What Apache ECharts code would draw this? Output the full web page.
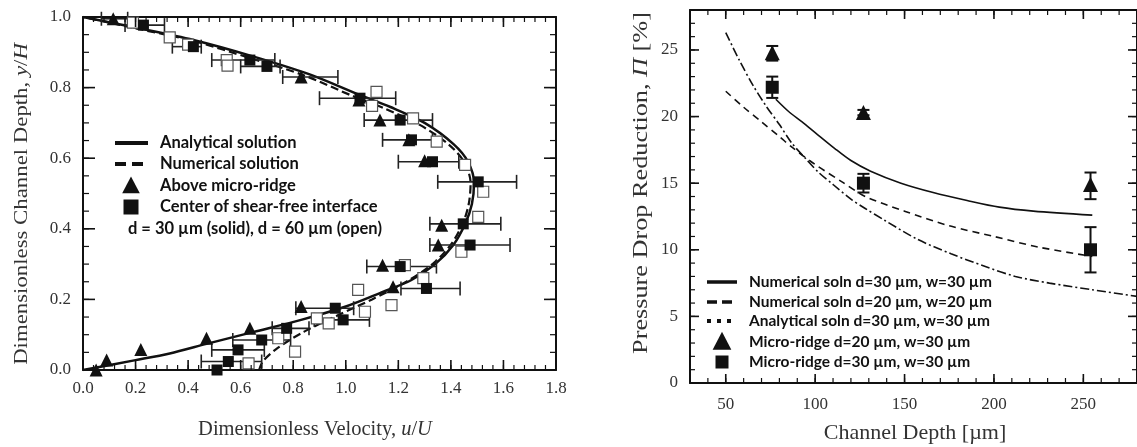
<!DOCTYPE html>
<html><head><meta charset="utf-8">
<script src="https://cdn.jsdelivr.net/npm/echarts@6/dist/echarts.min.js"></script>
<style>html,body{margin:0;padding:0;background:#fff}#c{width:1137px;height:447px}</style>
</head><body><div id="c"></div>
<script>
// ---------- tick labels / tick positions ----------
const leftXTicks = [0, 0.2, 0.4, 0.6, 0.8, 1.0, 1.2, 1.4, 1.6, 1.8];
const leftYTicks = [0, 0.2, 0.4, 0.6, 0.8, 1.0];
const rightXTicks = [50, 100, 150, 200, 250];
const rightYTicks = [0, 5, 10, 15, 20, 25];
function steps(a, b, s) { const r = []; for (let v = a; v <= b + 1e-9; v += s) r.push(Math.round(v * 1000) / 1000); return r; }
const leftXMinor = steps(0, 1.8, 0.04);
const leftYMinor = steps(0, 1.0, 0.05);
const rightXMinor = steps(30, 280, 10);
const rightYMinor = steps(0, 28, 1);
const leftXRange = [0, 1.8], leftYRange = [0, 1];
const rightXRange = [30, 280], rightYRange = [0, 28];

// ---------- left panel: velocity profile ----------
const analyticalSolution = [[0,0],[0.2,0.028],[0.33,0.047],[0.47,0.074],[0.65,0.108],[0.83,0.142],[1.0,0.18],[1.13,0.218],[1.25,0.255],[1.34,0.30],[1.41,0.355],[1.455,0.415],[1.48,0.47],[1.488,0.53],[1.465,0.59],[1.41,0.64],[1.3,0.70],[1.17,0.745],[1.05,0.78],[0.86,0.838],[0.64,0.89],[0.42,0.935],[0.2,0.97],[0,1.0]];
const numericalSolution = [[0.67,0],[0.685,0.025],[0.74,0.062],[0.84,0.108],[0.97,0.155],[1.1,0.2],[1.23,0.25],[1.33,0.30],[1.40,0.355],[1.445,0.415],[1.468,0.47],[1.475,0.53],[1.45,0.59],[1.39,0.64],[1.28,0.695],[1.15,0.74],[1.03,0.775],[0.84,0.835],[0.63,0.885],[0.42,0.932],[0.2,0.968],[0,1.0]];
const aboveRidge30 = [[0.05,0.0],[0.09,0.028],[0.22,0.058],[0.47,0.09],[0.635,0.118],[0.83,0.18],[1.14,0.297],[1.18,0.236],[1.352,0.354],[1.365,0.41],[1.30,0.593],[1.24,0.652],[1.13,0.708],[1.05,0.765],[0.83,0.83],[0.115,0.995]];
const centerSF30 = [[0.51,0.0],[0.553,0.024],[0.59,0.057],[0.68,0.085],[0.775,0.118],[0.96,0.175],[0.99,0.142],[1.207,0.293],[1.307,0.231],[1.473,0.354],[1.447,0.414],[1.504,0.533],[1.33,0.59],[1.25,0.652],[1.207,0.708],[1.054,0.77],[0.70,0.86],[0.635,0.878],[0.42,0.916],[0.23,0.977]];
const open60 = [[0.19,0.984],[0.33,0.942],[0.40,0.922],[0.547,0.878],[0.55,0.862],[1.117,0.788],[1.10,0.748],[1.256,0.713],[1.346,0.647],[1.454,0.581],[1.523,0.505],[1.504,0.434],[1.44,0.335],[1.225,0.297],[1.295,0.26],[1.047,0.227],[1.174,0.184],[1.073,0.165],[0.935,0.132],[0.89,0.146],[0.743,0.09],[0.807,0.052],[0.63,0.019]];
// horizontal error bars: [y, uLow, uHigh]
const leftErrors = [[0.995,0.07,0.17],[0.977,0.16,0.31],[0.916,0.34,0.45],[0.878,0.49,0.73],[0.86,0.60,0.75],[0.83,0.76,0.97],[0.77,0.90,1.19],[0.708,1.07,1.33],[0.652,1.14,1.33],[0.59,1.20,1.43],[0.533,1.35,1.65],[0.414,1.32,1.59],[0.354,1.32,1.625],[0.293,1.08,1.345],[0.231,1.21,1.435],[0.175,0.81,1.03],[0.142,0.88,1.09],[0.118,0.72,0.86],[0.085,0.57,0.79],[0.057,0.49,0.69],[0.024,0.45,0.68]];

// ---------- right panel: pressure drop reduction ----------
const numSoln30 = [[78,21.3],[85,20.4],[92.7,19.6],[100,18.8],[111,17.6],[120,16.7],[131,15.9],[148,15.0],[166,14.3],[185,13.7],[203,13.2],[222,12.9],[255,12.6]];
const numSoln20 = [[50,21.9],[60,20.7],[70,19.6],[80,18.5],[87,17.7],[100,16.4],[115,15.1],[128,14.0],[150,12.9],[175,11.8],[200,11.0],[225,10.2],[255,9.5]];
const anaSoln30 = [[50,26.3],[57.7,24.2],[65,22.4],[72.5,20.8],[80,19.4],[87,18.0],[95,16.8],[102,15.8],[110,14.9],[120,13.8],[128,13.1],[139,12.2],[157,10.8],[176,9.7],[194,8.8],[212,8.0],[231,7.5],[255,7.0],[280,6.5]];
const depths = [76, 127, 254];
const ridge20 = [24.8, 20.3, 14.9];
const ridge20Low = [24.2, 20.1, 13.8];
const ridge20High = [25.3, 20.5, 15.8];
const ridge30 = [22.2, 15.0, 10.0];
const ridge30Low = [21.4, 14.3, 8.3];
const ridge30High = [23.0, 15.7, 11.7];

const INK = '#111';
const tf = { fontFamily: 'Liberation Serif', fontSize: 17, color: '#333' };
const AL = { show: true, onZero: false, lineStyle: { color: INK, width: 2 } };

function ax(grid, pos, range, interval, label) {
  return {
    type: 'value', gridIndex: grid, position: pos, min: range[0], max: range[1], interval: interval,
    splitLine: { show: false }, minorTick: { show: false }, axisLine: AL, axisTick: { show: false },
    axisLabel: label ? label : { show: false }
  };
}
const lblLX = Object.assign({ show: true, customValues: leftXTicks, margin: 10, formatter: v => v.toFixed(1) }, tf);
const lblLY = Object.assign({ show: true, customValues: leftYTicks, margin: 12, formatter: v => v.toFixed(1) }, tf);
const lblRX = Object.assign({ show: true, customValues: rightXTicks, margin: 13, formatter: v => String(v) }, tf);
const lblRY = Object.assign({ show: true, customValues: rightYTicks, margin: 12, formatter: v => String(v) }, tf);

const xAxes = [
  ax(0, 'bottom', leftXRange, 0.2, lblLX),
  ax(0, 'top', leftXRange, 0.2),
  ax(1, 'bottom', rightXRange, 10, lblRX),
  ax(1, 'top', rightXRange, 10)
];
const yAxes = [
  ax(0, 'left', leftYRange, 0.2, lblLY),
  ax(0, 'right', leftYRange, 0.2),
  ax(1, 'left', rightYRange, 1, lblRY),
  ax(1, 'right', rightYRange, 1)
];

// tick marks drawn inward from the frame, positioned through the axis scales
function tickSeries(ai, side, ticks, len, xr, yr) {
  return {
    type: 'custom', coordinateSystem: 'cartesian2d', xAxisIndex: ai, yAxisIndex: ai, clip: false, silent: true, z: 8,
    data: ticks.map(v => [v]),
    renderItem: function (params, api) {
      const v = api.value(0);
      let a, dx = 0, dy = 0;
      if (side === 'bottom') { a = api.coord([v, yr[0]]); dy = -len; }
      else if (side === 'top') { a = api.coord([v, yr[1]]); dy = len; }
      else if (side === 'left') { a = api.coord([xr[0], v]); dx = len; }
      else { a = api.coord([xr[1], v]); dx = -len; }
      return { type: 'line', shape: { x1: a[0], y1: a[1], x2: a[0] + dx, y2: a[1] + dy }, style: { stroke: INK, lineWidth: len > 6 ? 1.6 : 1.2 } };
    }
  };
}
const tickSeriesList = [];
['bottom', 'top'].forEach(s => {
  tickSeriesList.push(tickSeries(0, s, leftXTicks, 10, leftXRange, leftYRange));
  tickSeriesList.push(tickSeries(0, s, leftXMinor, 5, leftXRange, leftYRange));
  tickSeriesList.push(tickSeries(2, s, rightXTicks, 9, rightXRange, rightYRange));
  tickSeriesList.push(tickSeries(2, s, rightXMinor, 5, rightXRange, rightYRange));
});
['left', 'right'].forEach(s => {
  tickSeriesList.push(tickSeries(0, s, leftYTicks, 12, leftXRange, leftYRange));
  tickSeriesList.push(tickSeries(0, s, leftYMinor, 6, leftXRange, leftYRange));
  tickSeriesList.push(tickSeries(2, s, rightYTicks, 9, rightXRange, rightYRange));
  tickSeriesList.push(tickSeries(2, s, rightYMinor, 5, rightXRange, rightYRange));
});

function hErrRender(params, api) {
  const y = api.value(0), lo = api.value(1), hi = api.value(2);
  const a = api.coord([lo, y]), b = api.coord([hi, y]);
  const st = { stroke: '#222', lineWidth: 1.6, fill: null };
  const c = 7;
  return { type: 'group', children: [
    { type: 'line', shape: { x1: a[0], y1: a[1], x2: b[0], y2: b[1] }, style: st },
    { type: 'line', shape: { x1: a[0], y1: a[1] - c, x2: a[0], y2: a[1] + c }, style: st },
    { type: 'line', shape: { x1: b[0], y1: b[1] - c, x2: b[0], y2: b[1] + c }, style: st }
  ]};
}
function vErrRender(params, api) {
  const x = api.value(0), lo = api.value(1), hi = api.value(2);
  const a = api.coord([x, lo]), b = api.coord([x, hi]);
  const st = { stroke: INK, lineWidth: 2, fill: null };
  const c = 6;
  return { type: 'group', children: [
    { type: 'line', shape: { x1: a[0], y1: a[1], x2: b[0], y2: b[1] }, style: st },
    { type: 'line', shape: { x1: a[0] - c, y1: a[1], x2: a[0] + c, y2: a[1] }, style: st },
    { type: 'line', shape: { x1: b[0] - c, y1: b[1], x2: b[0] + c, y2: b[1] }, style: st }
  ]};
}
const err20 = depths.map((d, i) => [d, ridge20Low[i], ridge20High[i]]);
const err30 = depths.map((d, i) => [d, ridge30Low[i], ridge30High[i]]);
const pts20 = depths.map((d, i) => [d, ridge20[i]]);
const pts30 = depths.map((d, i) => [d, ridge30[i]]);
const solid = { color: INK, opacity: 1 };
const L = { xAxisIndex: 0, yAxisIndex: 0 };
const R = { xAxisIndex: 2, yAxisIndex: 2 };

const series = [
  Object.assign({ type: 'line', data: analyticalSolution, smooth: 0.3, symbol: 'none', lineStyle: { color: INK, width: 2.5 }, z: 3 }, L),
  Object.assign({ type: 'line', data: numericalSolution, smooth: 0.3, symbol: 'none', lineStyle: { color: INK, width: 2.2, type: [8, 4] }, z: 3 }, L),
  Object.assign({ type: 'custom', data: leftErrors, renderItem: hErrRender, encode: { x: [1, 2], y: 0 }, z: 4 }, L),
  Object.assign({ type: 'scatter', data: open60, symbol: 'rect', symbolSize: 11, itemStyle: { color: '#fff', borderColor: '#555', borderWidth: 1.2, opacity: 1 }, z: 5 }, L),
  Object.assign({ type: 'scatter', data: centerSF30, symbol: 'rect', symbolSize: 11, itemStyle: solid, z: 6 }, L),
  Object.assign({ type: 'scatter', data: aboveRidge30, symbol: 'triangle', symbolSize: 13, itemStyle: solid, z: 6 }, L),
  Object.assign({ type: 'line', data: numSoln30, smooth: 0.3, symbol: 'none', lineStyle: { color: INK, width: 1.6 }, z: 3 }, R),
  Object.assign({ type: 'line', data: numSoln20, smooth: 0.3, symbol: 'none', lineStyle: { color: INK, width: 1.6, type: [7, 5] }, z: 3 }, R),
  Object.assign({ type: 'line', data: anaSoln30, smooth: 0.3, symbol: 'none', lineStyle: { color: INK, width: 1.6, type: [9, 3, 2, 3] }, z: 3 }, R),
  Object.assign({ type: 'custom', data: err20, renderItem: vErrRender, encode: { x: 0, y: [1, 2] }, z: 4 }, R),
  Object.assign({ type: 'custom', data: err30, renderItem: vErrRender, encode: { x: 0, y: [1, 2] }, z: 4 }, R),
  Object.assign({ type: 'scatter', data: pts20, symbol: 'triangle', symbolSize: 15, itemStyle: solid, z: 6 }, R),
  Object.assign({ type: 'scatter', data: pts30, symbol: 'rect', symbolSize: 13, itemStyle: solid, z: 6 }, R)
].concat(tickSeriesList);

function legText(x, y, t, size) {
  return { type: 'text', x: x, y: y, style: { text: t, font: 'bold ' + size + 'px Lato', fill: INK, textVerticalAlign: 'middle' }, z: 20 };
}
function legLine(x1, x2, y, w, dash) {
  return { type: 'line', shape: { x1: x1, y1: y, x2: x2, y2: y }, style: { stroke: INK, lineWidth: w, lineDash: dash || null, fill: null }, z: 20 };
}
function legTri(cx, cy, s) {
  return { type: 'polygon', shape: { points: [[cx, cy - s * 0.6], [cx - s * 0.55, cy + s * 0.45], [cx + s * 0.55, cy + s * 0.45]] }, style: { fill: INK }, z: 20 };
}
function legSq(cx, cy, s) {
  return { type: 'rect', shape: { x: cx - s / 2, y: cy - s / 2, width: s, height: s }, style: { fill: INK }, z: 20 };
}
const serif = 'Liberation Serif';
function richT(size) { return { n: { fontFamily: serif, fontSize: size, fill: '#333' }, i: { fontFamily: serif, fontSize: size, fontStyle: 'italic', fill: '#333' } }; }
const graphics = [
  legLine(115, 148, 143, 4), legText(160, 143, 'Analytical solution', 16.5),
  legLine(115, 148, 164, 4, [11, 6]), legText(160, 164, 'Numerical solution', 16.5),
  legTri(131, 186, 16), legText(160, 186, 'Above micro-ridge', 16.5),
  legSq(131, 207, 15), legText(160, 207, 'Center of shear-free interface', 16.5),
  legText(128, 229, 'd = 30 µm (solid), d = 60 µm (open)', 16.5),
  legLine(707, 737, 282, 3.5), legText(749, 282, 'Numerical soln d=30 µm, w=30 µm', 15.5),
  legLine(707, 737, 302, 3.5, [10, 5]), legText(749, 302, 'Numerical soln d=20 µm, w=20 µm', 15.5),
  legLine(707, 737, 321, 4, [4, 6]), legText(749, 321, 'Analytical soln d=30 µm, w=30 µm', 15.5),
  legTri(722, 342, 17), legText(749, 342, 'Micro-ridge d=20 µm, w=30 µm', 15.5),
  legSq(722, 362, 13), legText(749, 362, 'Micro-ridge d=30 µm, w=30 µm', 15.5),
  { type: 'text', x: 315, y: 430, style: { text: '{n|Dimensionless Velocity, }{i|u}{n|/}{i|U}', textAlign: 'center', textVerticalAlign: 'middle', rich: richT(20.5) } },
  { type: 'text', x: 22, y: 204, rotation: Math.PI / 2, scaleX: 1.2, style: { text: '{n|Dimensionless Channel Depth, }{i|y}{n|/}{i|H}', textAlign: 'center', textVerticalAlign: 'middle', rich: richT(19) } },
  { type: 'text', x: 915, y: 433, style: { text: 'Channel Depth [µm]', textAlign: 'center', textVerticalAlign: 'middle', font: '22px "Liberation Serif"', fill: '#333' } },
  { type: 'text', x: 641, y: 183, rotation: Math.PI / 2, scaleX: 1.25, style: { text: '{n|Pressure Drop Reduction, }{i|Π}{n| [%]}', textAlign: 'center', textVerticalAlign: 'middle', rich: richT(21) } }
];

const chart = echarts.init(document.getElementById('c'), null, { renderer: 'canvas' });
chart.setOption({
  animation: false, backgroundColor: '#fff',
  grid: [{ left: 83, top: 17, width: 473, height: 353 }, { left: 690, top: 10, width: 451, height: 373 }],
  xAxis: xAxes, yAxis: yAxes, series: series, graphic: graphics
});
</script></body></html>
